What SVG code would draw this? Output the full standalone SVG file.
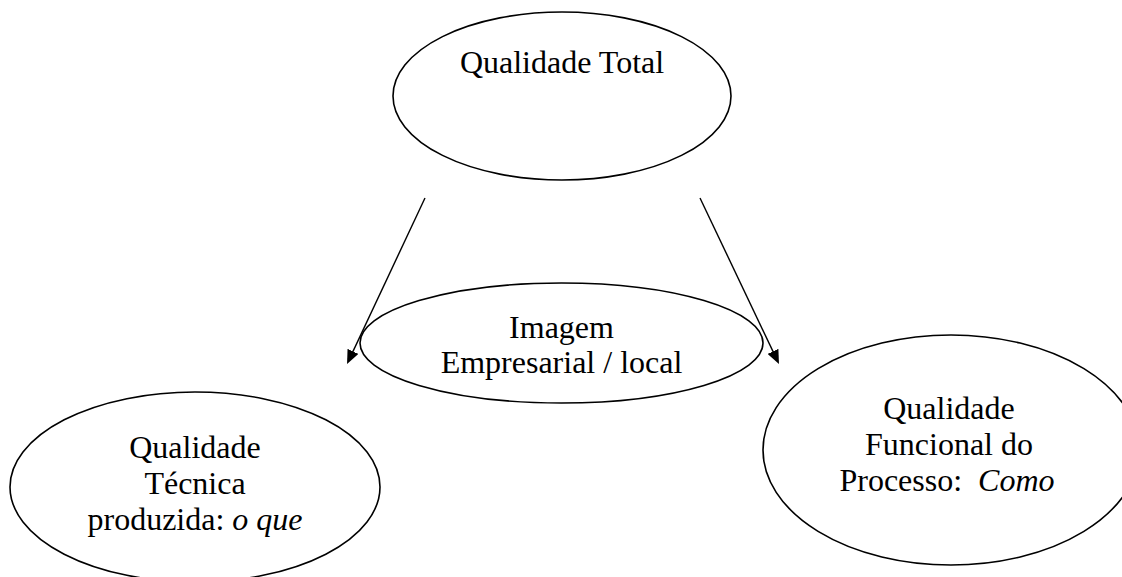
<svg xmlns="http://www.w3.org/2000/svg" width="1122" height="577" viewBox="0 0 1122 577">
  <style>
    .node ellipse { fill: #ffffff; stroke: #000000; stroke-width: 1.6; }
    .label { font-family: "Liberation Serif", "Times New Roman", serif; font-size: 32px; fill: #000000; text-anchor: middle; }
    .em { font-style: italic; }
    .edge { stroke: #000000; stroke-width: 1.4; fill: none; marker-end: url(#head); }
  </style>
  <defs>
    <marker id="head" markerUnits="userSpaceOnUse" markerWidth="14" markerHeight="12" refX="8" refY="6" orient="auto">
      <path d="M0,0 L14,6 L0,12 z" fill="#000000"/>
    </marker>
  </defs>
  <rect width="1122" height="577" fill="#ffffff"/>

  <g id="qualidade-total" class="node">
    <ellipse cx="562" cy="96" rx="169" ry="84"/>
    <text class="label" x="562" y="73">Qualidade Total</text>
  </g>

  <g id="qualidade-tecnica" class="node">
    <ellipse cx="195" cy="487" rx="185" ry="95"/>
    <text class="label" x="195" y="458">Qualidade</text>
    <text class="label" x="195" y="494">Técnica</text>
    <text class="label" x="195" y="530">produzida: <tspan class="em">o que</tspan></text>
  </g>

  <g id="qualidade-funcional" class="node">
    <ellipse cx="951" cy="450" rx="188" ry="115"/>
    <text class="label" x="949" y="419">Qualidade</text>
    <text class="label" x="949" y="455">Funcional do</text>
    <text class="label" x="947" y="491" xml:space="preserve">Processo:  <tspan class="em">Como</tspan></text>
  </g>

  <g id="connectors">
    <line class="edge" x1="425" y1="198" x2="349.6" y2="358.6"/>
    <line class="edge" x1="700" y1="198" x2="776.4" y2="358.6"/>
  </g>

  <g id="imagem" class="node">
    <ellipse cx="561.5" cy="343" rx="201.5" ry="60" style="fill:none"/>
    <text class="label" x="561.5" y="338">Imagem</text>
    <text class="label" x="561.5" y="373">Empresarial / local</text>
  </g>
</svg>
